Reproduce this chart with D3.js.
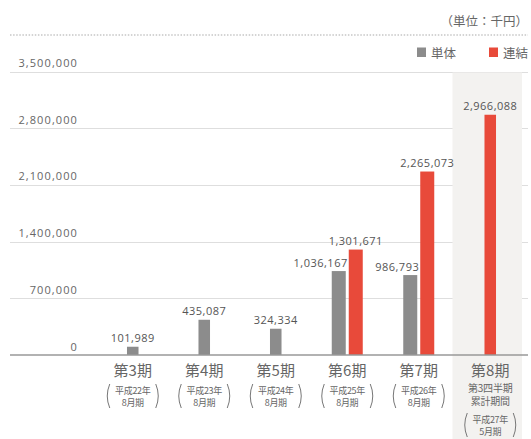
<!DOCTYPE html>
<html>
<head>
<meta charset="utf-8">
<script src="https://cdn.jsdelivr.net/npm/d3@7"></script>
<style>
  html, body { margin: 0; padding: 0; background: #fff; }
  svg { display: block; }
</style>
</head>
<body>
<svg id="chart" width="531" height="439"></svg>
<script>
const periods = ['第3期', '第4期', '第5期', '第6期', '第7期', '第8期']
const periodYears = ['平成22年', '平成23年', '平成24年', '平成25年', '平成26年', '平成27年']
const periodMonths = ['8月期', '8月期', '8月期', '8月期', '8月期', '5月期']
const periodExtra = [null, null, null, null, null, ['第3四半期', '累計期間']]
const seriesNames = ['単体', '連結']
const tanTai = [101989, 435087, 324334, 1036167, 986793, null]
const renketsu = [null, null, null, 1301671, 2265073, 2966088]
const yTicks = [0, 700000, 1400000, 2100000, 2800000, 3500000]
const highlighted = '第8期'

const W = 531, H = 439
const COLORS = { '単体': '#8c8c8c', '連結': '#e84a3a' }
const NUM_FONT = "'Open Sans', 'Noto Sans', sans-serif"
const JP_FONT = "'Noto Sans CJK JP', 'Noto Sans', sans-serif"

const svg = d3.select('#chart')

const x = d3.scaleBand().domain(periods).range([97, 526]).padding(0)
const y = d3.scaleLinear().domain([0, 3500000]).range([355, 71.5])

// unit label + dotted rule
svg.append('text')
  .attr('x', 528).attr('y', 26)
  .attr('text-anchor', 'end')
  .attr('font-family', JP_FONT).attr('font-size', 12.5)
  .attr('fill', '#666')
  .text('（単位：千円）')

svg.append('line')
  .attr('x1', 10).attr('x2', 528).attr('y1', 35).attr('y2', 35)
  .attr('stroke', '#aaa').attr('stroke-width', 1.2)
  .attr('stroke-dasharray', '1.5,1.6')

// legend
const legend = svg.append('g')
const legendX = [417, 489]
seriesNames.forEach((s, i) => {
  legend.append('rect')
    .attr('x', legendX[i]).attr('y', 47.5).attr('width', 9).attr('height', 9.5)
    .attr('fill', COLORS[s])
  legend.append('text')
    .attr('x', legendX[i] + 14).attr('y', 57.5)
    .attr('font-family', JP_FONT).attr('font-size', 12.5)
    .attr('fill', '#666')
    .text(s)
})

// grid
const grid = svg.append('g')
grid.selectAll('line').data(yTicks.filter(t => t > 0)).enter().append('line')
  .attr('x1', 10).attr('x2', 528)
  .attr('y1', d => Math.round(y(d)) + 0.5).attr('y2', d => Math.round(y(d)) + 0.5)
  .attr('stroke', '#dedede').attr('stroke-width', 1.2)

// highlighted period band
svg.append('rect')
  .attr('x', x(highlighted) - 2).attr('y', y(3500000) + 1)
  .attr('width', x.bandwidth() - 2).attr('height', H - y(3500000))
  .attr('fill', '#f3f2f0')

// y tick labels
svg.append('g').selectAll('text').data(yTicks).enter().append('text')
  .attr('x', 78).attr('y', d => y(d) - 4.5)
  .attr('text-anchor', 'end')
  .attr('font-family', NUM_FONT).attr('font-size', 11)
  .attr('letter-spacing', 1.1)
  .attr('fill', '#666')
  .text(d => d3.format(',')(d))

// bars
const barW = 14, gap = 3
const barData = []
periods.forEach((p, i) => {
  const vals = [['単体', tanTai[i]], ['連結', renketsu[i]]].filter(v => v[1] != null)
  const n = vals.length
  const total = n * barW + (n - 1) * gap
  const sub = d3.scaleBand().domain(vals.map(v => v[0]))
    .range([x(p) + x.bandwidth() / 2 - total / 2, x(p) + x.bandwidth() / 2 + total / 2])
    .paddingInner(gap / (barW + gap))
  vals.forEach(v => barData.push({ period: p, series: v[0], value: v[1], x: sub(v[0]), w: sub.bandwidth(), paired: n > 1 }))
})

svg.append('g').selectAll('rect').data(barData).enter().append('rect')
  .attr('x', d => d.x).attr('width', d => d.w)
  .attr('y', d => y(d.value)).attr('height', d => y(0) - y(d.value))
  .attr('fill', d => COLORS[d.series])

// value labels; the left bar of a pair gets its label pushed left so it clears the taller neighbour
svg.append('g').selectAll('text').data(barData).enter().append('text')
  .attr('x', d => d.paired && d.series === '単体' ? d.x + d.w + 2 : d.x + d.w / 2)
  .attr('y', d => y(d.value) - 4.5)
  .attr('text-anchor', d => d.paired && d.series === '単体' ? 'end' : 'middle')
  .attr('font-family', NUM_FONT).attr('font-size', 11)
  .attr('letter-spacing', 0.5)
  .attr('fill', '#555')
  .text(d => d3.format(',')(d.value))

// baseline
svg.append('line')
  .attr('x1', 10).attr('x2', 528).attr('y1', y(0)).attr('y2', y(0))
  .attr('stroke', '#999').attr('stroke-width', 1.5)

// category labels
const cat = svg.append('g').selectAll('g').data(periods).enter().append('g')
  .attr('transform', d => `translate(${x(d) + x.bandwidth() / 2},0)`)

cat.append('text')
  .attr('y', 376)
  .attr('text-anchor', 'middle')
  .attr('font-family', JP_FONT).attr('font-size', 15)
  .attr('fill', '#666')
  .text(d => d)

cat.each(function (d, i) {
  const g = d3.select(this)
  let top = 384
  if (periodExtra[i]) {
    periodExtra[i].forEach((t, j) => {
      g.append('text')
        .attr('y', 391.5 + j * 13.5)
        .attr('text-anchor', 'middle')
        .attr('font-family', JP_FONT).attr('font-size', 10)
        .attr('letter-spacing', -0.2)
        .attr('fill', '#666')
        .text(t)
    })
    top = 413
  }
  g.append('text')
    .attr('y', top + 10)
    .attr('text-anchor', 'middle')
    .attr('font-family', JP_FONT).attr('font-size', 9)
    .attr('letter-spacing', -0.3)
    .attr('fill', '#666')
    .text(periodYears[i])
  g.append('text')
    .attr('y', top + 22)
    .attr('text-anchor', 'middle')
    .attr('font-family', JP_FONT).attr('font-size', 9)
    .attr('letter-spacing', -0.3)
    .attr('fill', '#666')
    .text(periodMonths[i])
  const h = 24
  g.append('path')
    .attr('d', `M -23 ${top} Q -28 ${top + h / 2} -23 ${top + h}`)
    .attr('fill', 'none').attr('stroke', '#777').attr('stroke-width', 1)
  g.append('path')
    .attr('d', `M 23 ${top} Q 28 ${top + h / 2} 23 ${top + h}`)
    .attr('fill', 'none').attr('stroke', '#777').attr('stroke-width', 1)
})
</script>
</body>
</html>
